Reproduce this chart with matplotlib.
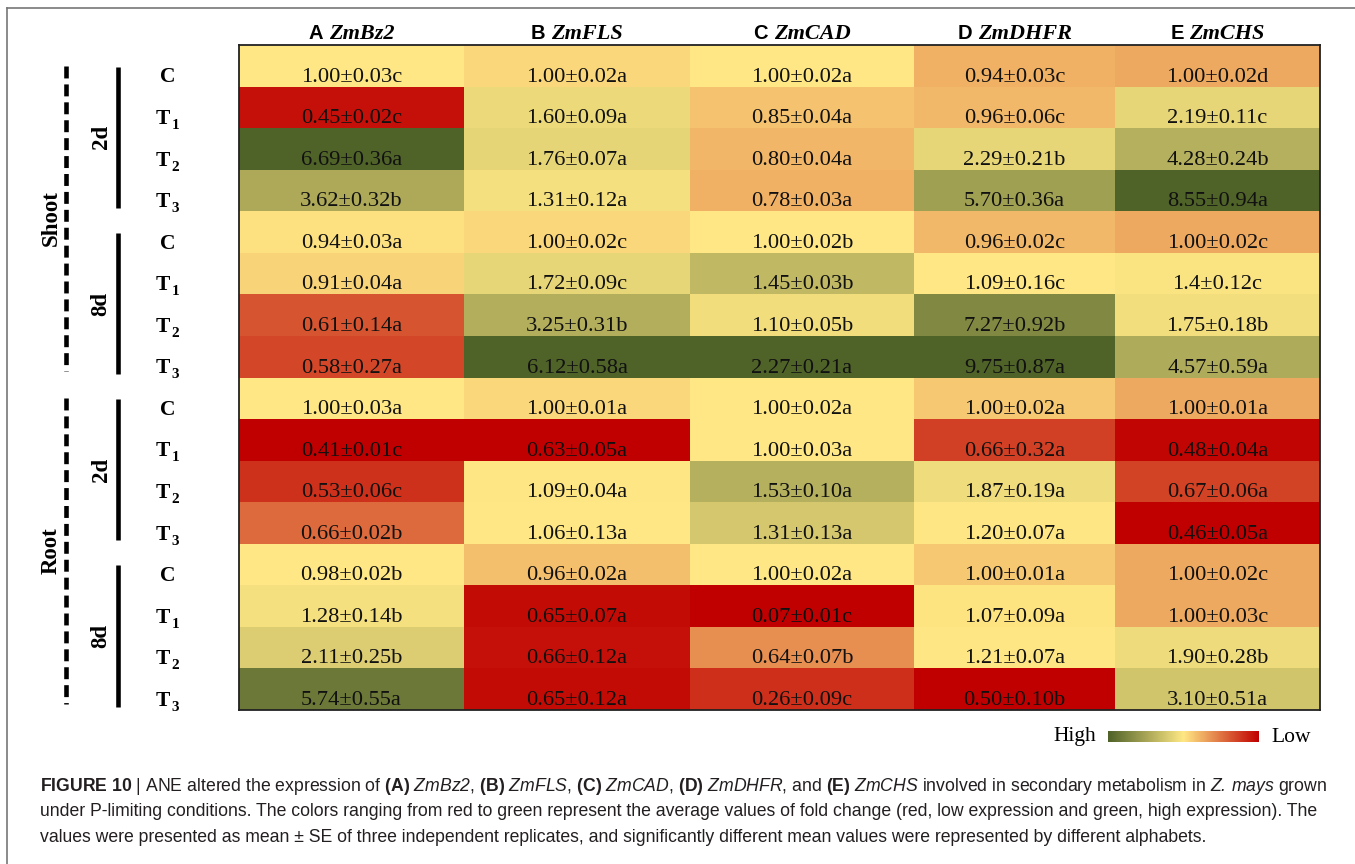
import numpy as np
import matplotlib
matplotlib.use("Agg")
import matplotlib.pyplot as plt
import matplotlib.transforms as mtransforms
from matplotlib.colors import LinearSegmentedColormap
from matplotlib.lines import Line2D
from matplotlib.offsetbox import TextArea, HPacker, AnnotationBbox

# ---- data ----
panels = ["A", "B", "C", "D", "E"]
genes = ["ZmBz2", "ZmFLS", "ZmCAD", "ZmDHFR", "ZmCHS"]
tissues = ["Shoot", "Root"]
days = ["2d", "8d"]
treatments = ["C", "T", "T", "T"]
treat_subs = ["", "1", "2", "3"]

# fold change means (rows: Shoot 2d C,T1,T2,T3, Shoot 8d ..., Root 2d ..., Root 8d ...)
mean_txt = [
    ["1.00", "1.00", "1.00", "0.94", "1.00"],
    ["0.45", "1.60", "0.85", "0.96", "2.19"],
    ["6.69", "1.76", "0.80", "2.29", "4.28"],
    ["3.62", "1.31", "0.78", "5.70", "8.55"],
    ["0.94", "1.00", "1.00", "0.96", "1.00"],
    ["0.91", "1.72", "1.45", "1.09", "1.4"],
    ["0.61", "3.25", "1.10", "7.27", "1.75"],
    ["0.58", "6.12", "2.27", "9.75", "4.57"],
    ["1.00", "1.00", "1.00", "1.00", "1.00"],
    ["0.41", "0.63", "1.00", "0.66", "0.48"],
    ["0.53", "1.09", "1.53", "1.87", "0.67"],
    ["0.66", "1.06", "1.31", "1.20", "0.46"],
    ["0.98", "0.96", "1.00", "1.00", "1.00"],
    ["1.28", "0.65", "0.07", "1.07", "1.00"],
    ["2.11", "0.66", "0.64", "1.21", "1.90"],
    ["5.74", "0.65", "0.26", "0.50", "3.10"],
]
se = [
    [0.03, 0.02, 0.02, 0.03, 0.02],
    [0.02, 0.09, 0.04, 0.06, 0.11],
    [0.36, 0.07, 0.04, 0.21, 0.24],
    [0.32, 0.12, 0.03, 0.36, 0.94],
    [0.03, 0.02, 0.02, 0.02, 0.02],
    [0.04, 0.09, 0.03, 0.16, 0.12],
    [0.14, 0.31, 0.05, 0.92, 0.18],
    [0.27, 0.58, 0.21, 0.87, 0.59],
    [0.03, 0.01, 0.02, 0.02, 0.01],
    [0.01, 0.05, 0.03, 0.32, 0.04],
    [0.06, 0.04, 0.10, 0.19, 0.06],
    [0.02, 0.13, 0.13, 0.07, 0.05],
    [0.02, 0.02, 0.02, 0.01, 0.02],
    [0.14, 0.07, 0.01, 0.09, 0.03],
    [0.25, 0.12, 0.07, 0.07, 0.28],
    [0.55, 0.12, 0.09, 0.10, 0.51],
]
letters = [
    ["c", "a", "a", "c", "d"],
    ["c", "a", "a", "c", "c"],
    ["a", "a", "a", "b", "b"],
    ["b", "a", "a", "a", "a"],
    ["a", "c", "b", "c", "c"],
    ["a", "c", "b", "c", "c"],
    ["a", "b", "b", "b", "b"],
    ["a", "a", "a", "a", "a"],
    ["a", "a", "a", "a", "a"],
    ["c", "a", "a", "a", "a"],
    ["c", "a", "a", "a", "a"],
    ["b", "a", "a", "a", "a"],
    ["b", "a", "a", "a", "c"],
    ["b", "a", "c", "a", "c"],
    ["b", "a", "b", "a", "b"],
    ["a", "a", "c", "b", "a"],
]

caption = [
    r"$\mathbf{FIGURE\ 10}$ | ANE altered the expression of $\mathbf{(A)}$ $\mathit{ZmBz2}$, "
    r"$\mathbf{(B)}$ $\mathit{ZmFLS}$, $\mathbf{(C)}$ $\mathit{ZmCAD}$, $\mathbf{(D)}$ $\mathit{ZmDHFR}$, "
    r"and $\mathbf{(E)}$ $\mathit{ZmCHS}$ involved in secondary metabolism in $\mathit{Z.\,mays}$ grown",
    "under P-limiting conditions. The colors ranging from red to green represent the average values "
    "of fold change (red, low expression and green, high expression). The",
    "values were presented as mean \u00b1 SE of three independent replicates, and significantly "
    "different mean values were represented by different alphabets.",
]

# ---- style ----
plt.rcParams["font.family"] = "Liberation Serif"
plt.rcParams["mathtext.fontset"] = "custom"
plt.rcParams["mathtext.rm"] = "Liberation Sans:italic"
plt.rcParams["mathtext.it"] = "Liberation Sans:italic"
plt.rcParams["mathtext.bf"] = "Liberation Sans:bold"
plt.rcParams["lines.scale_dashes"] = False

W, H = 1355, 864
col_px = [225, 226, 224, 201, 205]
grid_left, grid_top, grid_bottom = 239, 45, 710

cmap = LinearSegmentedColormap.from_list("ryg", ["#C00000", "#FFE884", "#4F6228"])

means = np.array(mean_txt, dtype=float)
n_rows, n_cols = means.shape

# Excel-like 3-colour scale per column: min -> red, median -> yellow, max -> green
scaled = np.zeros_like(means)
for j in range(n_cols):
    col = means[:, j]
    scaled[:, j] = np.interp(col, [col.min(), np.median(col), col.max()], [0, 0.5, 1])

fig = plt.figure(figsize=(W / 100, H / 100), dpi=100)
ax = fig.add_axes([grid_left / W, 1 - grid_bottom / H, sum(col_px) / W,
                   (grid_bottom - grid_top) / H])

x_edges = np.concatenate([[0], np.cumsum(col_px)])
y_edges = np.arange(n_rows + 1)
ax.pcolormesh(x_edges, y_edges, scaled, cmap=cmap, vmin=0, vmax=1)
ax.set_xlim(x_edges[0], x_edges[-1])
ax.set_ylim(n_rows, 0)
ax.set_xticks([])
ax.set_yticks([])
for s in ax.spines.values():
    s.set_linewidth(1.3)
    s.set_color("#222222")

x_mid = (x_edges[:-1] + x_edges[1:]) / 2
for i in range(n_rows):
    for j in range(n_cols):
        label = "%s\u00b1%.2f%s" % (mean_txt[i][j], se[i][j], letters[i][j])
        ax.text(x_mid[j], i + 0.88, label, ha="center", va="baseline",
                fontsize=16.2, color="#111111")

# column headers
for j in range(n_cols):
    box = HPacker(children=[
        TextArea(panels[j], textprops=dict(family="Liberation Sans", weight="bold", size=14.5)),
        TextArea(genes[j], textprops=dict(family="Liberation Serif", weight="bold",
                                          style="italic", size=16)),
    ], pad=0, sep=4, align="baseline")
    xf = (grid_left + x_mid[j]) / W
    ab = AnnotationBbox(box, (xf, 1 - 34 / H), xycoords="figure fraction",
                        box_alignment=(0.5, 0.5), frameon=False, pad=0)
    fig.add_artist(ab)

# row labels and group brackets
trans = mtransforms.blended_transform_factory(fig.transFigure, ax.transData)
for i in range(n_rows):
    k = i % 4
    if treat_subs[k]:
        ax.text(170.5 / W, i + 0.9, treatments[k], transform=trans, ha="right",
                va="baseline", fontsize=15.5, weight="bold")
        ax.text(171.5 / W, i + 1.02, treat_subs[k], transform=trans, ha="left",
                va="baseline", fontsize=11, weight="bold")
    else:
        ax.text(168 / W, i + 0.9, treatments[k], transform=trans, ha="center",
                va="baseline", fontsize=15.5, weight="bold")

for t, tissue in enumerate(tissues):
    r0 = t * 8
    ax.add_line(Line2D([65.5 / W] * 2, [r0 + 0.5, r0 + 7.85], transform=trans,
                       color="black", lw=3.3, linestyle=(0, (8.6, 4.3)), clip_on=False))
    ax.text(51 / W, r0 + (0.5 + 7.85) / 2, tissue, transform=trans, rotation=90,
            ha="center", va="center", fontsize=16.5, weight="bold")
    for d, day in enumerate(days):
        g0 = r0 + d * 4
        ax.add_line(Line2D([118 / W] * 2, [g0 + 0.52, g0 + 3.92], transform=trans,
                           color="black", lw=3.3, solid_capstyle="butt", clip_on=False))
        ax.text(101 / W, g0 + (0.52 + 3.92) / 2, day, transform=trans, rotation=90,
                ha="center", va="center", fontsize=16.5, weight="bold")

# legend bar
cax = fig.add_axes([1108 / W, 1 - 742 / H, 151 / W, 11 / H])
cax.imshow(np.linspace(1, 0, 256)[None, :], aspect="auto", cmap=cmap, vmin=0, vmax=1)
cax.axis("off")
fig.text(1096 / W, 1 - 737 / H, "High", ha="right", va="center", fontsize=15.5)
fig.text(1271 / W, 1 - 737 / H, "Low", ha="left", va="center", fontsize=15.5)

# page frame
fig.add_artist(Line2D([7 / W, 1], [1 - 8 / H] * 2, color="#777777", lw=1.2))
fig.add_artist(Line2D([7 / W] * 2, [0, 1 - 8 / H], color="#777777", lw=1.2))

# caption
for n, line in enumerate(caption):
    fig.text(40 / W, 1 - (791 + 25.5 * n) / H, line, ha="left", va="baseline",
             fontsize=12.7, family="Liberation Sans", color="#231f20")

fig.savefig("out.png", dpi=100)
